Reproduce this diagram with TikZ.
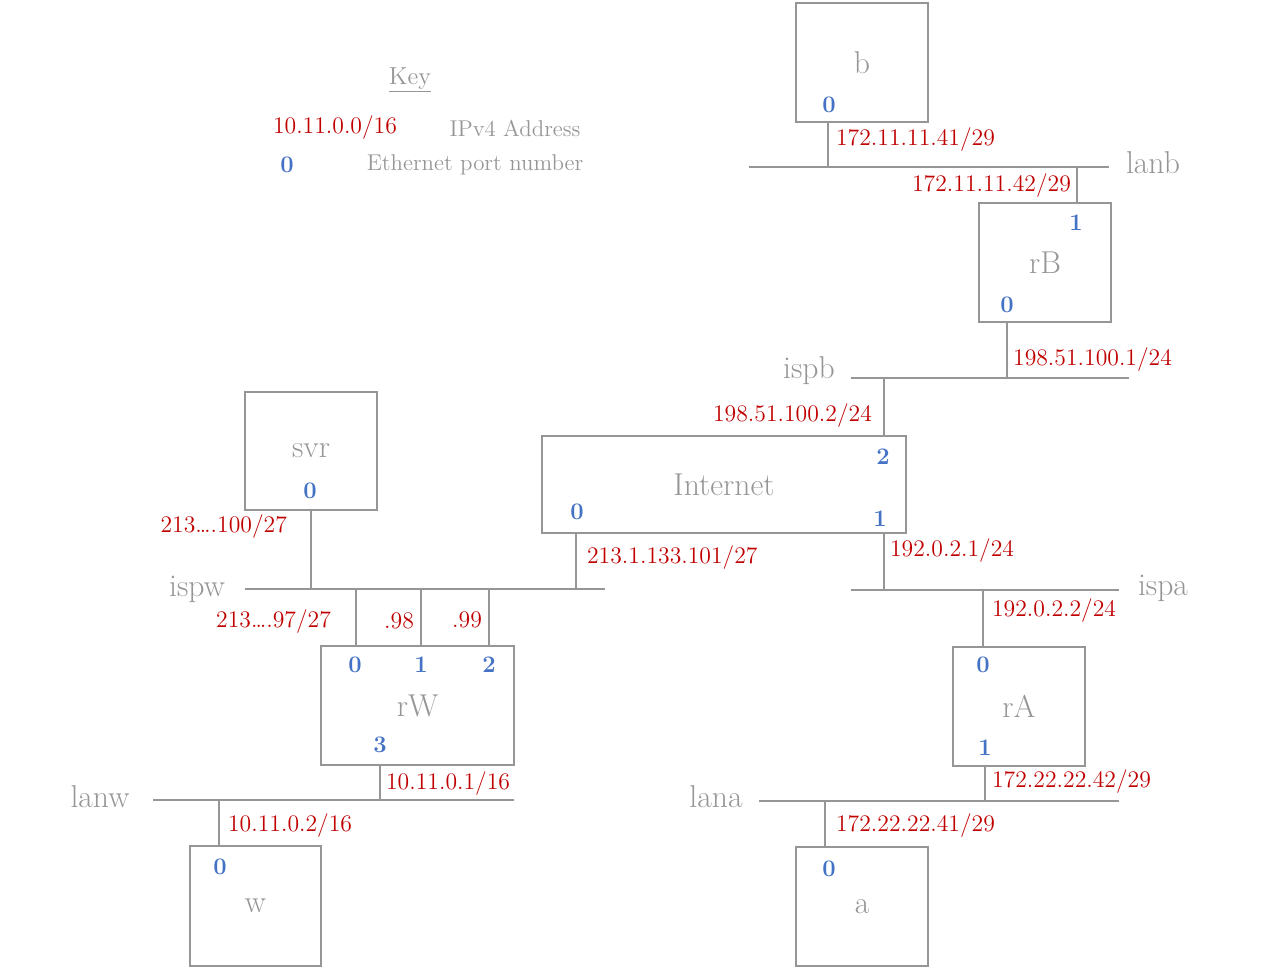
\documentclass[tikz,border=0pt]{standalone}
\usepackage{fontspec}
\usepackage{tikz}
\usetikzlibrary{calc}
\definecolor{netgrey}{RGB}{150,150,150}
\definecolor{addrred}{RGB}{192,0,0}
\definecolor{portblue}{RGB}{68,114,196}
\tikzset{
  host/.style={draw=netgrey, line width=1.6pt, minimum width=2.64cm, minimum height=2.38cm, text=netgrey, font=\fontsize{18}{21}\selectfont, inner sep=0pt},
  bus/.style={draw=netgrey, line width=1.1pt},
  addr/.style={text=addrred, font=\fontsize{13.5}{16}\selectfont, inner sep=1pt},
  port/.style={text=portblue, font=\bfseries\fontsize{13.5}{16}\selectfont, inner sep=0pt},
  netname/.style={text=netgrey, font=\fontsize{18}{21}\selectfont, inner sep=0pt},
  keytext/.style={text=netgrey, font=\fontsize{13}{15}\selectfont, inner sep=0pt}
}

\begin{document}
\begin{tikzpicture}[x=0.02cm,y=-0.02cm]
\useasboundingbox (0,0) rectangle (1266,968);
% key
\node[keytext, font=\fontsize{14}{16}\selectfont] (keyhead) at (410,80) {\underline{Key}};
\node[addr] (keyaddr) at (335,128) {10.11.0.0/16};
\node[keytext] (keyaddrtxt) at (515,128) {IPv4 Address};
\node[port] (keyport) at (287,165) {0};
\node[keytext] (keyporttxt) at (475,165) {Ethernet port number};
% hosts and routers
\node[host] (b) at (862,62.5) {b};
\node[host] (rB) at (1045,262.5) {rB};
\node[host, minimum width=7.28cm, minimum height=1.94cm] (inet) at (724,484.5) {Internet};
\node[host, minimum height=2.36cm] (svr) at (311,451) {svr};
\node[host, minimum width=3.86cm] (rW) at (417.5,705.5) {rW};
\node[host, minimum width=2.62cm, minimum height=2.4cm] (w) at (255.5,906) {w};
\node[host] (rA) at (1019,706.5) {rA};
\node[host] (a) at (862,906.5) {a};
% ports
\node[port] (b0) at (829,105) {0};
\node[port] (rB1) at (1076,223) {1};
\node[port] (rB0) at (1007,305) {0};
\node[port] (inet2) at (883,457) {2};
\node[port] (inet1) at (880,519) {1};
\node[port] (inet0) at (577,512) {0};
\node[port] (svr0) at (310,491) {0};
\node[port] (rW0) at (355,665) {0};
\node[port] (rW1) at (421,665) {1};
\node[port] (rW2) at (489,665) {2};
\node[port] (rW3) at (380,745) {3};
\node[port] (w0) at (220,867) {0};
\node[port] (rA0) at (983,665) {0};
\node[port] (rA1) at (985,748) {1};
\node[port] (a0) at (829,869) {0};
% networks
\coordinate (lanbL) at (749,167);  \coordinate (lanbR) at (1109,167);
\coordinate (ispbL) at (851,378);  \coordinate (ispbR) at (1129,378);
\coordinate (ispwL) at (245,589);  \coordinate (ispwR) at (605,589);
\coordinate (ispaL) at (851,590);  \coordinate (ispaR) at (1119,590);
\coordinate (lanwL) at (153,800);  \coordinate (lanwR) at (514,800);
\coordinate (lanaL) at (759,801);  \coordinate (lanaR) at (1119,801);
\draw[bus] (lanbL) -- (lanbR);
\draw[bus] (ispbL) -- (ispbR);
\draw[bus] (ispwL) -- (ispwR);
\draw[bus] (ispaL) -- (ispaR);
\draw[bus] (lanwL) -- (lanwR);
\draw[bus] (lanaL) -- (lanaR);
\node[netname] (lanb) at (1153,163) {lanb};
\node[netname] (ispb) at (809,371) {ispb};
\node[netname] (ispw) at (197,589) {ispw};
\node[netname] (ispa) at (1163,588) {ispa};
\node[netname] (lanw) at (100,797) {lanw};
\node[netname] (lana) at (716,797) {lana};
% taps
\coordinate (lanb-b) at (828,167);
\coordinate (lanb-rB) at (1077,167);
\coordinate (ispb-rB) at (1007,378);
\coordinate (ispb-inet) at (884,378);
\coordinate (ispw-svr) at (311,589);
\coordinate (ispw-inet) at (576,589);
\coordinate (ispw-rW0) at (356,589);
\coordinate (ispw-rW1) at (421,589);
\coordinate (ispw-rW2) at (489,589);
\coordinate (ispa-inet) at (884,590);
\coordinate (ispa-rA) at (983,590);
\coordinate (lanw-rW) at (380,800);
\coordinate (lanw-w) at (219,800);
\coordinate (lana-rA) at (985,801);
\coordinate (lana-a) at (825,801);
\draw[bus] (lanb-b) -- (lanb-b |- b.south);
\draw[bus] (lanb-rB) -- (lanb-rB |- rB.north);
\draw[bus] (ispb-rB) -- (ispb-rB |- rB.south);
\draw[bus] (ispb-inet) -- (ispb-inet |- inet.north);
\draw[bus] (ispw-svr) -- (ispw-svr |- svr.south);
\draw[bus] (ispw-inet) -- (ispw-inet |- inet.south);
\draw[bus] (ispw-rW0) -- (ispw-rW0 |- rW.north);
\draw[bus] (ispw-rW1) -- (ispw-rW1 |- rW.north);
\draw[bus] (ispw-rW2) -- (ispw-rW2 |- rW.north);
\draw[bus] (ispa-inet) -- (ispa-inet |- inet.south);
\draw[bus] (ispa-rA) -- (ispa-rA |- rA.north);
\draw[bus] (lanw-rW) -- (lanw-rW |- rW.south);
\draw[bus] (lanw-w) -- (lanw-w |- w.north);
\draw[bus] (lana-rA) -- (lana-rA |- rA.south);
\draw[bus] (lana-a) -- (lana-a |- a.north);
% addresses
\node[addr, anchor=west] (b0addr) at (834,140) {172.11.11.41/29};
\node[addr, anchor=east] (rB1addr) at (1073,186) {172.11.11.42/29};
\node[addr, anchor=west] (rB0addr) at (1011,360) {198.51.100.1/24};
\node[addr, anchor=east] (inet2addr) at (874,416) {198.51.100.2/24};
\node[addr, anchor=west] (inet0addr) at (585,558) {213.1.133.101/27};
\node[addr, anchor=west] (inet1addr) at (888,551) {192.0.2.1/24};
\node[addr, anchor=east] (svr0addr) at (289,527) {213….100/27};
\node[addr, anchor=east] (rW0addr) at (333,622) {213….97/27};
\node[addr, anchor=east] (rW1addr) at (416,621) {.98};
\node[addr, anchor=east] (rW2addr) at (484,620) {.99};
\node[addr, anchor=west] (rA0addr) at (990,611) {192.0.2.2/24};
\node[addr, anchor=west] (rW3addr) at (384,784) {10.11.0.1/16};
\node[addr, anchor=west] (w0addr) at (226,826) {10.11.0.2/16};
\node[addr, anchor=west] (rA1addr) at (990,782) {172.22.22.42/29};
\node[addr, anchor=west] (a0addr) at (834,826) {172.22.22.41/29};
\end{tikzpicture}
\end{document}
